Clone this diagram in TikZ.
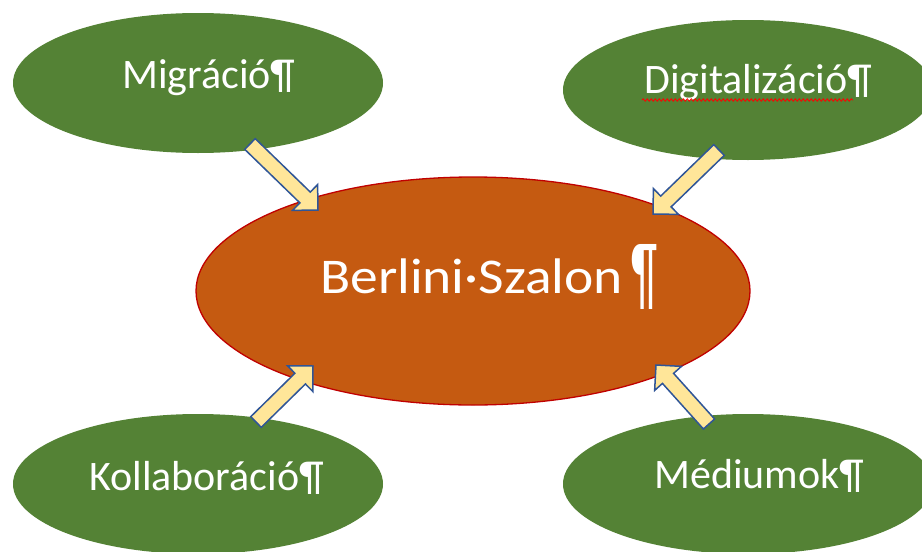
\documentclass[tikz,border=0pt]{standalone}
\usepackage{fontspec}
\setmainfont{Carlito}
\usetikzlibrary{shapes.geometric,calc,decorations.pathmorphing}
\definecolor{grn}{HTML}{548235}
\definecolor{org}{HTML}{C55A11}
\definecolor{arrfill}{HTML}{FFE699}
\definecolor{arrline}{HTML}{2F5597}
\definecolor{redline}{HTML}{C00000}
\newcommand{\blkarrow}[2]{%
  \coordinate (hb) at ($(#2)!18pt!(#1)$);
  \draw[blkarr] ($(#1)!7.5pt!90:(#2)$) -- ($(hb)!7.5pt!90:(#2)$) -- ($(hb)!18pt!90:(#2)$) -- (#2)
    -- ($(hb)!18pt!-90:(#2)$) -- ($(hb)!7.5pt!-90:(#2)$) -- ($(#1)!7.5pt!-90:(#2)$) -- cycle;}
\begin{document}
\begin{tikzpicture}[x=1pt,y=-1pt,
  greenell/.style={ellipse, fill=grn, draw=none, inner sep=0pt, minimum width=370pt, minimum height=140pt},
  centerell/.style={ellipse, fill=org, draw=redline, line width=1.3pt, inner sep=0pt, minimum width=554pt, minimum height=228pt},
  smalltxt/.style={anchor=base west, inner sep=0pt, text=white, font=\fontsize{42}{50}\selectfont},
  bigtxt/.style={anchor=base west, inner sep=0pt, text=white, font=\fontsize{50}{60}\selectfont},
  blkarr/.style={fill=arrfill, draw=arrline, line width=1.5pt, line join=miter},
  spell/.style={draw=red, line width=0.8pt, decorate, decoration={snake, amplitude=1.2pt, segment length=4pt}}]
\useasboundingbox (0,0) rectangle (922,552);
\clip (0,0) rectangle (922,552);
\node[greenell] (migr) at (198,83) {};
\node[greenell] (digit) at (748,90) {};
\node[greenell] (koll) at (198,484) {};
\node[greenell] (med) at (748,484) {};
\node[centerell] (berlin) at (473,291) {};
\node[smalltxt] (migrT) at (122,88) {Migráció¶};
\node[smalltxt] (digitT) at (644,93) {Digitalizáció¶};
\node[smalltxt] (kollT) at (89,490) {Kollaboráció¶};
\node[smalltxt] (medT) at (654,488) {Médiumok¶};
\node[bigtxt] (berlinT) at (320,293) {\scalebox{1.11}[1]{Berlini·Szalon}};
\node[anchor=south west, inner sep=0pt, text=white] (berlinP) at (631,310) {\resizebox*{26pt}{65pt}{¶}};
\coordinate (spellA) at (642,100);
\coordinate (spellB) at (853,100);
\draw[spell] (spellA) -- (spellB);
\coordinate (a1t) at (250,144); \coordinate (a1h) at (318,210);
\coordinate (a2t) at (719,150); \coordinate (a2h) at (653,214);
\coordinate (a3t) at (256,422); \coordinate (a3h) at (313,366);
\coordinate (a4t) at (709,424); \coordinate (a4h) at (656,365);
\blkarrow{a1t}{a1h}
\blkarrow{a2t}{a2h}
\blkarrow{a3t}{a3h}
\blkarrow{a4t}{a4h}
\end{tikzpicture}
\end{document}
